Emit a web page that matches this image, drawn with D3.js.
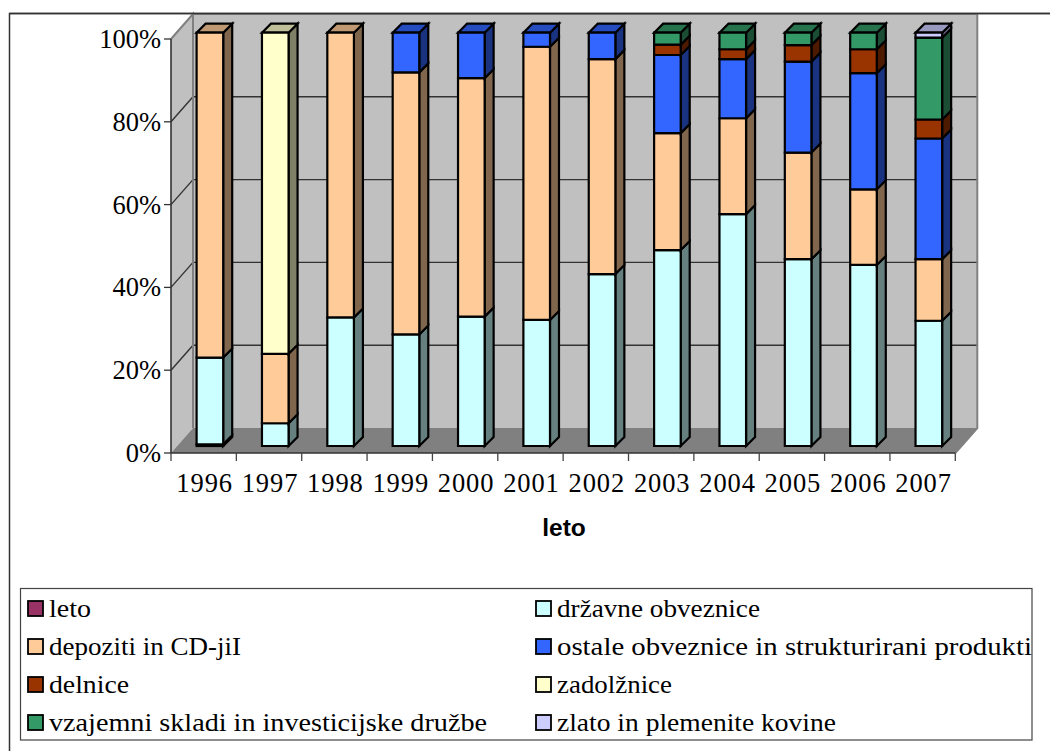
<!DOCTYPE html>
<html><head><meta charset="utf-8">
<script src="https://cdn.jsdelivr.net/npm/d3@7/dist/d3.min.js"></script>
<style>html,body{margin:0;padding:0;background:#fff;overflow:hidden}svg{display:block}</style>
</head><body><svg id="c" width="1050" height="751"></svg>
<script>
const years=["1996","1997","1998","1999","2000","2001","2002","2003","2004","2005","2006","2007"];
const seriesNames=["leto","državne obveznice","depoziti in CD-jiI","ostale obveznice in strukturirani produkti","delnice","zadolžnice","vzajemni skladi in investicijske družbe","zlato in plemenite kovine"];
const colors=["#993366","#CCFFFF","#FFCC99","#3366FF","#993300","#FFFFCC","#339966","#CCCCFF"];
const leto=[0.4,0,0,0,0,0,0,0,0,0,0,0];
const drzavne=[21.0,5.5,31.1,27.0,31.3,30.5,41.6,47.4,56.1,45.2,43.8,30.3];
const depoziti=[78.6,16.8,68.9,63.4,57.7,66.1,52.0,28.3,23.2,25.8,18.3,14.9];
const ostale=[0,0,0,9.6,11.0,3.4,6.4,18.9,14.3,22.0,28.1,29.2];
const delnice=[0,0,0,0,0,0,0,2.5,2.4,4.0,5.8,4.6];
const zadolznice=[0,77.7,0,0,0,0,0,0,0,0,0,0];
const vzajemni=[0,0,0,0,0,0,0,2.9,4.0,3.0,4.0,19.8];
const zlato=[0,0,0,0,0,0,0,0,0,0,0,1.2];
const allSeries=[leto,drzavne,depoziti,ostale,delnice,zadolznice,vzajemni,zlato];
const yTicks=[0,20,40,60,80,100];

const svg=d3.select("#c");
const serif="'Liberation Serif',serif";
svg.append("path").attr("d","M9.5,751V13.5H1050").attr("fill","none").attr("stroke","#333").attr("stroke-width",1.5);

const x=d3.scaleBand().domain(years).range([171,955.3]);
const yAxisS=d3.scaleLinear().domain([0,100]).range([453,39]);
const yBar=d3.scaleLinear().domain([0,100]).range([446,32.7]);
const barW=26.6, barOff=25.6;
const poly=p=>"M"+p.map(q=>q.join(",")).join("L")+"Z";
const x0=x.range()[0], x1=x.range()[1];

const g=svg.append("g");
g.append("path").attr("d",poly([[x0,yAxisS(100)],[x0+22,yAxisS(100)-25],[x0+22,yAxisS(0)-25],[x0,yAxisS(0)]])).attr("fill","#C0C0C0");
g.append("path").attr("d",poly([[x0+22,14],[x1+22,14],[x1+22,428],[x0+22,428]])).attr("fill","#C0C0C0");
g.append("path").attr("d",poly([[x0,453],[x0+22,428],[x1+22,428],[x1,453]])).attr("fill","#808080");
yTicks.filter(t=>t>0&&t<100).forEach(t=>{
  const y=yAxisS(t);
  g.append("path").attr("d",`M${x0},${y}L${x0+22},${y-25}H${x1+22}`).attr("fill","none").attr("stroke","#333").attr("stroke-width",1.4);
});
g.append("path").attr("d",`M${x0},39L${x0+22},14V428M${x1+22},14V428L${x1},453`).attr("fill","none").attr("stroke","#808080").attr("stroke-width",2);
g.append("path").attr("d",`M${x0+22},14H${x1+22}`).attr("fill","none").attr("stroke","#808080").attr("stroke-width",2);
svg.append("path").attr("d","M9.5,13.5H1050").attr("fill","none").attr("stroke","#333").attr("stroke-width",1.5);

const table=years.map((yr,i)=>{const o={year:yr};seriesNames.forEach((s,k)=>o[s]=allSeries[k][i]);return o;});
const stacked=d3.stack().keys(seriesNames)(table);
const shade=(c,f)=>{const r=d3.rgb(c);return d3.rgb(r.r*f,r.g*f,r.b*f).formatHex();};
years.forEach((yr,i)=>{
  const gb=svg.append("g");
  const bx=x(yr)+barOff;
  const top=d3.max(stacked,l=>l[i][1]);
  stacked.forEach((layer,k)=>{
    const [a,b]=layer[i];
    if(b-a<=0) return;
    const y0=yBar(a), y1=yBar(b), c=colors[k];
    const add=(d,f)=>gb.append("path").attr("d",d).attr("fill",f).attr("stroke","#000").attr("stroke-width",2.2).attr("stroke-linejoin","miter");
    add(poly([[bx+barW,y0],[bx+barW+9,y0-9],[bx+barW+9,y1-9],[bx+barW,y1]]),shade(c,.5));
    if(b>=top-1e-6) add(poly([[bx,y1],[bx+9,y1-9],[bx+barW+9,y1-9],[bx+barW,y1]]),shade(c,.75));
    add(poly([[bx,y0],[bx+barW,y0],[bx+barW,y1],[bx,y1]]),c);
  });
});

const axG=svg.append("g");
const xTickPos=d3.range(13).map(i=>x0+i*x.step());
axG.append("path").attr("d",`M${x0},39V453H${x1}`).attr("fill","none").attr("stroke","#333").attr("stroke-width",1.6);
xTickPos.forEach(p=>axG.append("line").attr("x1",p).attr("x2",p).attr("y1",453).attr("y2",461).attr("stroke","#444").attr("stroke-width",1.3));
yTicks.forEach(t=>{
  const y=yAxisS(t);
  axG.append("line").attr("x1",x0-7).attr("x2",x0).attr("y1",y).attr("y2",y).attr("stroke","#333").attr("stroke-width",1.3);
  axG.append("text").attr("x",161).attr("y",y+9).attr("text-anchor","end").attr("font-family",serif).attr("font-size",26.5).attr("fill","#000").text(t+"%");
});
years.forEach(yr=>{
  axG.append("text").attr("x",x(yr)+x.bandwidth()/2+1).attr("y",492).attr("text-anchor","middle").attr("font-family",serif).attr("font-size",26.5).attr("letter-spacing",0.9).attr("fill","#000").text(yr);
});
svg.append("text").attr("x",564).attr("y",536).attr("text-anchor","middle").attr("font-family","'Liberation Sans',sans-serif").attr("font-weight","bold").attr("font-size",24.5).attr("fill","#000").text("leto");

const lg=svg.append("g");
lg.append("rect").attr("x",20.5).attr("y",588.5).attr("width",1011.5).attr("height",151.5).attr("fill","#fff").attr("stroke","#444").attr("stroke-width",1.2);
const rowY=[608.5,646.5,684.5,722.5], colX=[28,536];
const legendTextWidth=[42,203,192,475,80,115,438,279];
seriesNames.forEach((s,i)=>{
  const cx=colX[i%2], cy=rowY[Math.floor(i/2)];
  lg.append("rect").attr("x",cx).attr("y",cy-7.5).attr("width",15).attr("height",15).attr("fill",colors[i]).attr("stroke","#000").attr("stroke-width",1.8);
  lg.append("text").attr("x",cx+21).attr("y",cy+8).attr("font-family",serif).attr("font-size",25).attr("textLength",legendTextWidth[i]).attr("lengthAdjust","spacingAndGlyphs").attr("fill","#000").text(s);
});
</script></body></html>
